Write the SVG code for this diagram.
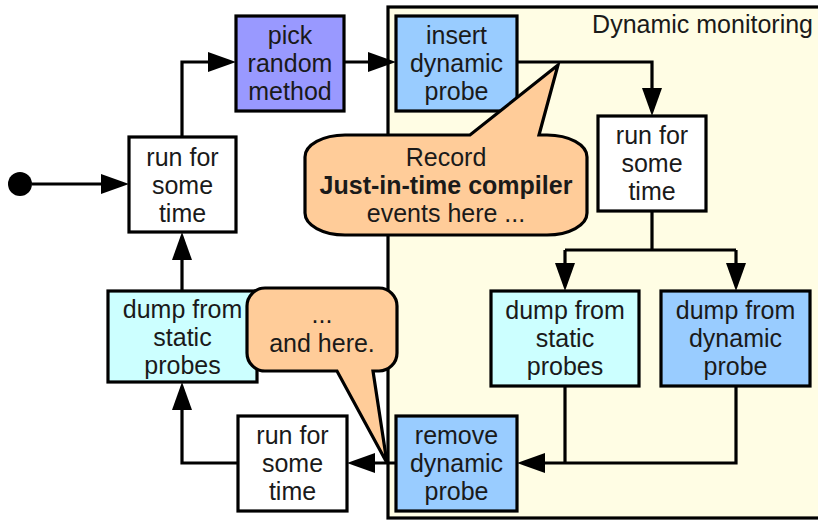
<svg xmlns="http://www.w3.org/2000/svg" width="818" height="521" viewBox="0 0 818 521">
  <defs>
    <marker id="arrow" markerUnits="userSpaceOnUse" markerWidth="28" markerHeight="20" refX="18" refY="10" orient="auto">
      <path d="M0,0 L28,10 L0,20 Z" fill="#000"/>
    </marker>
    <style>
      .box { stroke: #000; stroke-width: 3.2; }
      .white { fill: #ffffff; }
      .violet { fill: #9999ff; }
      .blue { fill: #99ccff; }
      .cyan { fill: #ccffff; }
      .bubble { fill: #ffcc99; stroke: #000; stroke-width: 3.2; stroke-linejoin: miter; }
      .conn { fill: none; stroke: #000; stroke-width: 3.2; }
      .arr { marker-end: url(#arrow); }
      text { font-family: "Liberation Sans", Arial, sans-serif; font-size: 25px; fill: #1a1a1a; text-anchor: middle; }
      .b { font-weight: bold; }
    </style>
  </defs>

  <!-- Dynamic monitoring region -->
  <g id="dynamic-monitoring">
    <rect x="388" y="7" width="450" height="511" fill="#fffde4" stroke="#000" stroke-width="3.2"/>
    <text x="813" y="33" style="text-anchor:end">Dynamic monitoring</text>
  </g>

  <!-- connectors -->
  <g id="connectors">
    <circle cx="20" cy="184" r="12" fill="#000"/>
    <path class="conn arr" d="M32 184 H119"/>
    <path class="conn arr" d="M182 137 V62 H226"/>
    <path class="conn arr" d="M344 62 H386"/>
    <path class="conn arr" d="M517 62 H652 V106"/>
    <path class="conn" d="M652 211 V250 M565 250 H736"/>
    <path class="conn arr" d="M565 250 V281"/>
    <path class="conn arr" d="M736 250 V281"/>
    <path class="conn" d="M565 386 V463"/>
    <path class="conn arr" d="M736 386 V463 H527"/>
    <path class="conn arr" d="M396 463 H357"/>
    <path class="conn arr" d="M238 463 H182 V392"/>
    <path class="conn arr" d="M182 291 V242"/>
  </g>

  <!-- nodes -->
  <g id="run-1">
    <rect class="box white" x="129" y="137" width="107" height="95"/>
    <text x="182.5" y="165.5">run for</text>
    <text x="182.5" y="193.5">some</text>
    <text x="182.5" y="221.5">time</text>
  </g>
  <g id="pick-method">
    <rect class="box violet" x="236" y="16" width="108" height="95"/>
    <text x="290" y="44">pick</text>
    <text x="290" y="72">random</text>
    <text x="290" y="100">method</text>
  </g>
  <g id="insert-probe">
    <rect class="box blue" x="396" y="16" width="121" height="95"/>
    <text x="456.5" y="44">insert</text>
    <text x="456.5" y="72">dynamic</text>
    <text x="456.5" y="100">probe</text>
  </g>
  <g id="run-2">
    <rect class="box white" x="598" y="116" width="108" height="95"/>
    <text x="652" y="144">run for</text>
    <text x="652" y="172">some</text>
    <text x="652" y="200">time</text>
  </g>
  <g id="dump-static-2">
    <rect class="box cyan" x="491" y="291" width="148" height="95"/>
    <text x="565" y="319">dump from</text>
    <text x="565" y="347">static</text>
    <text x="565" y="375">probes</text>
  </g>
  <g id="dump-dynamic">
    <rect class="box blue" x="661" y="291" width="149" height="95"/>
    <text x="735.5" y="319">dump from</text>
    <text x="735.5" y="347">dynamic</text>
    <text x="735.5" y="375">probe</text>
  </g>
  <g id="remove-probe">
    <rect class="box blue" x="396" y="416" width="121" height="95"/>
    <text x="456.5" y="444">remove</text>
    <text x="456.5" y="472">dynamic</text>
    <text x="456.5" y="500">probe</text>
  </g>
  <g id="run-3">
    <rect class="box white" x="238" y="416" width="109" height="95"/>
    <text x="292.5" y="444">run for</text>
    <text x="292.5" y="472">some</text>
    <text x="292.5" y="500">time</text>
  </g>
  <g id="dump-static-1">
    <rect class="box cyan" x="108" y="291" width="149" height="91"/>
    <text x="182.5" y="318">dump from</text>
    <text x="182.5" y="346">static</text>
    <text x="182.5" y="374">probes</text>
  </g>

  <!-- callouts -->
  <g id="callout-record">
    <path class="bubble" d="M345 135 H470 L558 65 L539 135 H547 A40 22 0 0 1 587 157 V213 A40 22 0 0 1 547 235 H345 A40 22 0 0 1 305 213 V157 A40 22 0 0 1 345 135 Z"/>
    <text x="446" y="166">Record</text>
    <text x="446" y="193.5" class="b">Just-in-time compiler</text>
    <text x="446" y="221.5">events here ...</text>
  </g>
  <g id="callout-here">
    <path class="bubble" d="M265 288 H379 A18 18 0 0 1 397 306 V353 A18 18 0 0 1 379 371 H373 L387 463 L337 371 H265 A18 18 0 0 1 247 353 V306 A18 18 0 0 1 265 288 Z"/>
    <text x="322" y="323">...</text>
    <text x="322" y="351.5">and here.</text>
  </g>
</svg>
